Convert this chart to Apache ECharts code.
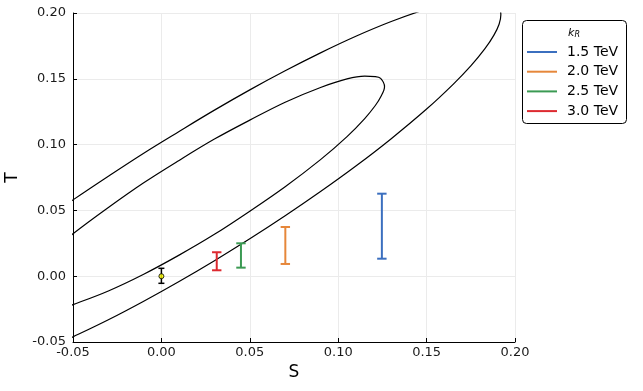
<!DOCTYPE html>
<html>
<head>
<meta charset="utf-8">
<script src="https://cdn.jsdelivr.net/npm/echarts@6/dist/echarts.min.js"></script>
<style>html,body{margin:0;padding:0;background:#fff}#c{width:643px;height:391px}</style>
</head>
<body>
<div id="c"></div>
<script>
// ---- data ----
const kR = ['1.5 TeV', '2.0 TeV', '2.5 TeV', '3.0 TeV'];
const barColors = ['#3b6fbf', '#e6873a', '#3b9a53', '#dd2a30'];
const barS = [0.1247, 0.0701, 0.0450, 0.0313];
const barLow = [0.0133, 0.0093, 0.0065, 0.0045];
const barHigh = [0.0627, 0.0374, 0.0250, 0.0182];

const smS = [0.0];
const smT = [0.0];
const smLow = [-0.0054];
const smHigh = [0.0060];

// outer contour (closed loop, partly outside the plot window)
const outerS = [-0.06, -0.05, -0.03, -0.01, 0.01, 0.03, 0.05, 0.07, 0.09, 0.11, 0.13, 0.15, 0.165, 0.175, 0.183, 0.188, 0.191, 0.192,
                0.191, 0.188, 0.183, 0.175, 0.165, 0.15, 0.13, 0.11, 0.09, 0.07, 0.05, 0.03, 0.01, -0.01, -0.03, -0.05, -0.06];
const outerT = [-0.0523, -0.0461, -0.0331, -0.0190, -0.0040, 0.0118, 0.0284, 0.0459, 0.0643, 0.0837, 0.1045, 0.1270, 0.1458, 0.1598, 0.1729, 0.1830, 0.1915, 0.1986,
                0.2041, 0.2079, 0.2099, 0.2102, 0.2082, 0.2030, 0.1935, 0.1823, 0.1697, 0.1561, 0.1416, 0.1262, 0.1100, 0.0935, 0.0760, 0.0580, 0.0485];

// inner contour
const innerS = [-0.06, -0.05, -0.03, -0.01, 0.01, 0.03, 0.05, 0.07, 0.09, 0.105, 0.115, 0.121, 0.124, 0.1262,
                0.124, 0.121, 0.115, 0.105, 0.09, 0.07, 0.05, 0.03, 0.01, -0.01, -0.03, -0.05, -0.06];
const innerT = [-0.0263, -0.0216, -0.0112, 0.0015, 0.0160, 0.0318, 0.0494, 0.0680, 0.0886, 0.1061, 0.1198, 0.1297, 0.1361, 0.1440,
                0.1503, 0.1517, 0.1520, 0.1499, 0.1434, 0.1322, 0.1186, 0.1042, 0.0880, 0.0710, 0.0522, 0.0322, 0.0205];

const xTicks = { min: -0.05, max: 0.20, interval: 0.05 };
const yTicks = { min: -0.05, max: 0.20, interval: 0.05 };

// ---- chart ----
const FONT = 'DejaVu Sans';
const chart = echarts.init(document.getElementById('c'), null, { renderer: 'canvas' });

function errorBar(capHalf, lw) {
  return function (params, api) {
    const x = api.value(0), lo = api.value(1), hi = api.value(2);
    const pLo = api.coord([x, lo]);
    const pHi = api.coord([x, hi]);
    const color = api.visual('color');
    const st = { stroke: color, lineWidth: lw };
    return {
      type: 'group',
      children: [
        { type: 'line', shape: { x1: pLo[0], y1: pLo[1], x2: pHi[0], y2: pHi[1] }, style: st },
        { type: 'line', shape: { x1: pHi[0] - capHalf, y1: pHi[1], x2: pHi[0] + capHalf, y2: pHi[1] }, style: st },
        { type: 'line', shape: { x1: pLo[0] - capHalf, y1: pLo[1], x2: pLo[0] + capHalf, y2: pLo[1] }, style: st }
      ]
    };
  };
}

const series = [];
series.push({
  type: 'line', name: 'outer', data: outerS.map((s, i) => [s, outerT[i]]),
  showSymbol: false, symbol: 'none', smooth: 0.35, clip: true,
  lineStyle: { color: '#000', width: 1.2 }, silent: true, z: 2
});
series.push({
  type: 'line', name: 'inner', data: innerS.map((s, i) => [s, innerT[i]]),
  showSymbol: false, symbol: 'none', smooth: 0.35, clip: true,
  lineStyle: { color: '#000', width: 1.2 }, silent: true, z: 2
});
kR.forEach((name, i) => {
  series.push({
    type: 'custom', name: name,
    itemStyle: { color: barColors[i] },
    renderItem: errorBar(4.7, 2),
    encode: { x: 0, y: [1, 2] },
    data: [[barS[i], barLow[i], barHigh[i]]], z: 3
  });
});
series.push({
  type: 'custom', name: 'SM',
  itemStyle: { color: '#000' },
  renderItem: errorBar(3, 1.5),
  encode: { x: 0, y: [1, 2] },
  data: smS.map((s, i) => [s, smLow[i], smHigh[i]]), z: 3
});
series.push({
  type: 'scatter', name: 'SMpt',
  data: smS.map((s, i) => [s, smT[i]]),
  symbol: 'circle', symbolSize: 5,
  itemStyle: { color: '#ffff00', borderColor: '#000', borderWidth: 1 }, z: 4
});

const axisCommon = {
  type: 'value',
  axisLine: { show: true, onZero: false, lineStyle: { color: '#000', width: 1 } },
  axisTick: { show: true, inside: true, length: 4, lineStyle: { color: '#000' } },
  splitLine: { show: true, lineStyle: { color: '#ebebeb', width: 1 } },
  nameLocation: 'middle',
  nameTextStyle: { fontFamily: FONT, fontSize: 17, color: '#000' }
};

chart.setOption({
  animation: false,
  backgroundColor: '#fff',
  grid: { left: 73, right: 128, top: 13, bottom: 49, containLabel: false, outerBoundsMode: 'none' },
  xAxis: Object.assign({}, axisCommon, {
    min: xTicks.min, max: xTicks.max, interval: xTicks.interval,
    name: 'S', nameGap: 21,
    axisLabel: { fontFamily: FONT, fontSize: 13, color: '#1a1a1a', margin: 4, formatter: v => v.toFixed(2) }
  }),
  yAxis: Object.assign({}, axisCommon, {
    min: yTicks.min, max: yTicks.max, interval: yTicks.interval,
    name: 'T', nameGap: 50,
    axisLabel: { fontFamily: FONT, fontSize: 13, color: '#1a1a1a', margin: 7, formatter: v => v.toFixed(2) }
  }),
  legend: {
    data: kR,
    orient: 'vertical', left: 527, top: 44.5, padding: 0,
    itemWidth: 30, itemHeight: 2, itemGap: 4.7, icon: 'rect',
    textStyle: { fontFamily: FONT, fontSize: 14, color: '#000', lineHeight: 15, padding: [0, 0, 0, 5] }
  },
  graphic: [
    { type: 'rect', z: 0, shape: { x: 522.5, y: 20.5, width: 104, height: 103, r: 4 },
      style: { fill: '#fff', stroke: '#000', lineWidth: 1 } },
    { type: 'text', z: 10, x: 574, y: 33,
      style: { text: '{k|k}{r|R}', align: 'center', verticalAlign: 'middle', fill: '#000',
        rich: { k: { fontFamily: FONT, fontStyle: 'italic', fontSize: 11, lineHeight: 12 },
                r: { fontFamily: FONT, fontStyle: 'italic', fontSize: 8, lineHeight: 6, verticalAlign: 'bottom' } } } }
  ],
  series: series
});
</script>
</body>
</html>
